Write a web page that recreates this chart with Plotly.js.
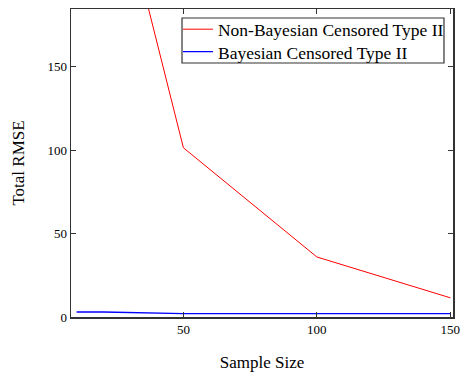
<!DOCTYPE html>
<html>
<head>
<meta charset="utf-8">
<script src="https://cdn.plot.ly/plotly-3.0.1.min.js"></script>
<style>html,body{margin:0;padding:0;background:#fff;}#chart{width:466px;height:372px;}</style>
</head>
<body>
<div id="chart"></div>
<script>
var sampleSize = [10, 20, 50, 100, 150];
var nonBayesRMSE = [450, 293, 101.5, 36, 11.5];
var bayesRMSE = [3, 3, 2, 2, 2];
var seriesNames = ["Non-Bayesian Censored Type II", "Bayesian Censored Type II"];
var xTicks = [50, 100, 150];
var yTicks = [0, 50, 100, 150];

var serif = "'Times New Roman', 'Liberation Serif', Times, serif";
var traces = [
  {x: sampleSize, y: nonBayesRMSE, name: seriesNames[0], mode: "lines", line: {color: "#ff0000", width: 1}, legend: "legend"},
  {x: sampleSize, y: bayesRMSE, name: seriesNames[1], mode: "lines", line: {color: "#0000ff", width: 1.3}, legend: "legend2"}
];
var axisCommon = {
  showgrid: false, zeroline: false, showline: true, linecolor: "#333333", linewidth: 1.5,
  mirror: "ticks", ticks: "inside", ticklen: 5, tickcolor: "#333333", tickwidth: 1,
  tickfont: {family: serif, size: 13, color: "#000"}
};
var legendCommon = {xanchor: "left", yanchor: "middle", bgcolor: "rgba(0,0,0,0)",
  borderwidth: 0, font: {family: serif, size: 17.5, color: "#000"}};
var layout = {
  width: 466, height: 372,
  margin: {l: 71, r: 13, t: 9, b: 55},
  font: {family: serif},
  paper_bgcolor: "#fff", plot_bgcolor: "#fff",
  showlegend: true,
  legend: Object.assign({}, legendCommon, {x: 0.280, y: 0.934}),
  legend2: Object.assign({}, legendCommon, {x: 0.280, y: 0.861}),
  shapes: [{type: "rect", xref: "paper", yref: "paper", x0: 0.2906, x1: 0.9764, y0: 0.8247, y1: 0.9708,
            line: {color: "#333333", width: 1.2}, fillcolor: "rgba(0,0,0,0)", layer: "above"}],
  xaxis: Object.assign({}, axisCommon, {range: [7.9, 151], tickvals: xTicks,
    title: {text: "Sample Size", font: {family: serif, size: 17, color: "#000"}, standoff: 22}}),
  yaxis: Object.assign({}, axisCommon, {range: [0, 184.7], tickvals: yTicks,
    title: {text: "Total RMSE", font: {family: serif, size: 17, color: "#000"}, standoff: 18}})
};
Plotly.newPlot("chart", traces, layout, {displayModeBar: false, staticPlot: true});
</script>
</body>
</html>
